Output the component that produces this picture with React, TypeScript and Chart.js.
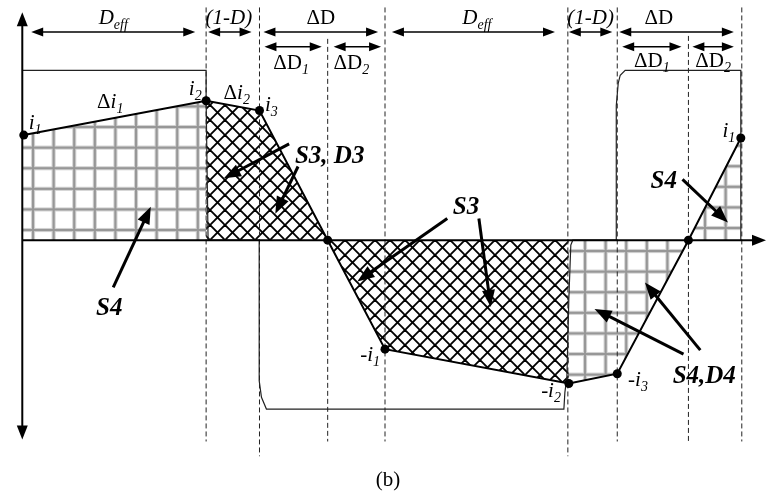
import React, { useEffect, useRef } from "react";
import { Chart, registerables } from "chart.js";

Chart.register(...registerables);

// ---------- data (time and current in arbitrary units) ----------
const eventTimes = [0.15, 18.6, 24.0, 30.9, 36.7, 55.3, 60.2, 67.4, 72.7];
const currentValues = [10.7, 14.2, 13.2, 0, -11.1, -14.6, -13.6, 0, 10.4];

// hatched areas between the current and zero: index ranges into eventTimes
const regionStart = [0, 1, 3, 5, 7];
const regionEnd = [1, 3, 5, 7, 8];
const regionHatch = ["grid", "cross", "cross", "grid", "grid"];

// voltage waveform
const voltageTimes = [0, 18.6, 18.6, 18.8, 23.97, 23.97, 24.2, 24.7, 54.8, 54.9, 55.1, 55.3, 55.5, 55.7, 60.1, 60.1, 60.3, 60.5, 61.0, 72.7, 72.7];
const voltageValues = [17.3, 17.3, 14.2, 0, 0, -14.3, -16.0, -17.2, -17.2, -15.5, -14.0, -6.0, -0.5, 0, 0, 13.7, 16.0, 16.8, 17.3, 17.3, 0];

// vertical dashed markers
const dashTimes = [18.6, 24.0, 30.9, 36.7, 55.2, 60.2, 67.4, 72.8];
const dashTops = [23.7, 23.7, 20.5, 23.7, 23.7, 23.7, 20.8, 23.7];
const dashBottoms = [-20.5, -22.0, -20.5, -20.5, -22.0, -20.5, -20.5, -20.5];

// double-headed interval arrows
const spanStarts = [0.9, 18.8, 24.4, 24.5, 31.5, 37.4, 55.3, 60.4, 60.7, 67.8];
const spanEnds = [17.5, 23.2, 36.0, 30.3, 36.3, 53.9, 59.7, 72.0, 66.7, 72.0];
const spanLevels = [21.2, 21.2, 21.2, 19.7, 19.7, 21.2, 21.2, 21.2, 19.7, 19.7];

// pointer arrows (tail -> head)
const pointerTailT = [9.2, 27.0, 27.9, 43.0, 46.2, 66.9, 68.6, 66.8];
const pointerTailV = [-4.8, 9.8, 7.5, 2.2, 2.2, -11.6, -11.2, 6.2];
const pointerHeadT = [13.0, 20.4, 25.6, 33.9, 47.4, 57.9, 63.0, 71.4];
const pointerHeadV = [3.4, 6.3, 2.7, -4.2, -6.8, -7.0, -4.3, 1.8];

// text labels
const labelTexts = ["D", "(1-D)", "ΔD", "ΔD", "ΔD", "D", "(1-D)", "ΔD", "ΔD", "ΔD",
  "i", "Δi", "i", "Δi", "i", "S3, D3", "S4", "S3", "-i", "-i", "-i", "S4,D4", "i", "S4", "(b)"];
const labelSubs = ["eff", "", "", "1", "2", "eff", "", "", "1", "2",
  "1", "1", "2", "2", "3", "", "", "", "1", "2", "3", "", "1", "", ""];
const labelTimes = [9.2, 20.9, 30.2, 27.2, 33.3, 46.0, 57.5, 64.4, 63.7, 69.9,
  1.3, 8.9, 17.5, 21.7, 25.2, 31.1, 8.8, 44.9, 35.2, 53.5, 62.3, 69.0, 71.5, 64.9, 37.0];
const labelLevels = [22.05, 22.05, 22.05, 17.4, 17.4, 22.05, 22.05, 22.05, 17.6, 17.6,
  11.3, 13.5, 14.8, 14.4, 13.2, 7.9, -7.6, 2.7, -12.3, -16.0, -14.8, -14.5, 10.5, 5.3, -25.0];
const labelKinds = ["it", "it", "up", "up", "up", "it", "it", "up", "up", "up",
  "it", "dit", "it", "dit", "it", "bi", "bi", "bi", "dit", "dit", "dit", "bi", "it", "bi", "up"];

const axisTimeEnd = 75.25;
const axisTop = 23.2;
const axisBottom = -20.3;

const FAMILY = '"Liberation Serif", "Times New Roman", serif';

function makeGrid(ctx: CanvasRenderingContext2D, ox: number, oy: number): CanvasPattern {
  const s = 20;
  const c = document.createElement("canvas");
  c.width = s;
  c.height = s;
  const g = c.getContext("2d")!;
  g.fillStyle = "#d2d2d2";
  g.fillRect(s / 2 - 2, 0, 4, s);
  g.fillRect(0, s / 2 - 2, s, 4);
  g.fillStyle = "#979797";
  g.fillRect(s / 2 - 1, 0, 2, s);
  g.fillRect(0, s / 2 - 1, s, 2);
  const p = ctx.createPattern(c, "repeat")!;
  const k = 1.03;
  p.setTransform(new DOMMatrix().translate(ox - (s / 2) * k, oy - (s / 2) * k).scale(k));
  return p;
}

function makeCross(ctx: CanvasRenderingContext2D): CanvasPattern {
  const s = 15;
  const c = document.createElement("canvas");
  c.width = s;
  c.height = s;
  const g = c.getContext("2d")!;
  g.strokeStyle = "#000";
  g.lineWidth = 1.9;
  for (const o of [-s, 0, s]) {
    g.beginPath();
    g.moveTo(o - 2, -2);
    g.lineTo(o + s + 2, s + 2);
    g.stroke();
    g.beginPath();
    g.moveTo(o + s + 2, -2);
    g.lineTo(o - 2, s + 2);
    g.stroke();
  }
  return ctx.createPattern(c, "repeat")!;
}

function head(ctx: CanvasRenderingContext2D, tx: number, ty: number, dx: number, dy: number, len: number, w: number) {
  const n = Math.hypot(dx, dy) || 1;
  const ux = dx / n, uy = dy / n;
  const bx = tx - ux * len, by = ty - uy * len;
  ctx.beginPath();
  ctx.moveTo(tx, ty);
  ctx.lineTo(bx - uy * w / 2, by + ux * w / 2);
  ctx.lineTo(bx + uy * w / 2, by - ux * w / 2);
  ctx.closePath();
  ctx.fill();
}

function drawLabel(ctx: CanvasRenderingContext2D, x: number, y: number, text: string, sub: string, kind: string) {
  const base = kind === "bi" ? 25 : 21;
  const parts: { s: string; f: string; dy: number }[] = [];
  if (kind === "dit") {
    parts.push({ s: text[0], f: `${base}px ${FAMILY}`, dy: 0 });
    parts.push({ s: text.slice(1), f: `italic ${base}px ${FAMILY}`, dy: 0 });
  } else if (kind === "it") {
    parts.push({ s: text, f: `italic ${base}px ${FAMILY}`, dy: 0 });
  } else if (kind === "bi") {
    parts.push({ s: text, f: `italic bold ${base}px ${FAMILY}`, dy: 0 });
  } else {
    parts.push({ s: text, f: `${base}px ${FAMILY}`, dy: 0 });
  }
  if (sub) parts.push({ s: sub, f: `italic ${Math.round(base * 0.66)}px ${FAMILY}`, dy: base * 0.24 });
  let w = 0;
  const ws: number[] = [];
  for (const p of parts) {
    ctx.font = p.f;
    const m = ctx.measureText(p.s).width;
    ws.push(m);
    w += m;
  }
  let cx = x - w / 2;
  ctx.textBaseline = "alphabetic";
  ctx.textAlign = "left";
  parts.forEach((p, i) => {
    ctx.font = p.f;
    ctx.fillText(p.s, cx, y + p.dy);
    cx += ws[i];
  });
}

const overlay = {
  id: "overlay",
  afterDatasetsDraw(chart: any) {
    const { ctx } = chart;
    const xs = chart.scales.x, ys = chart.scales.y;
    const X = (t: number) => xs.getPixelForValue(t);
    const Y = (v: number) => ys.getPixelForValue(v);
    ctx.save();
    ctx.fillStyle = "#000";
    ctx.strokeStyle = "#000";
    // axis arrowheads
    head(ctx, X(0), Y(axisTop), 0, -1, 14, 11);
    head(ctx, X(0), Y(axisBottom), 0, 1, 14, 11);
    head(ctx, X(axisTimeEnd), Y(0), 1, 0, 14, 11);
    // interval arrows
    ctx.lineWidth = 1.5;
    for (let i = 0; i < spanStarts.length; i++) {
      const x1 = X(spanStarts[i]), x2 = X(spanEnds[i]), y = Y(spanLevels[i]);
      ctx.beginPath();
      ctx.moveTo(x1 + 6, y);
      ctx.lineTo(x2 - 6, y);
      ctx.stroke();
      head(ctx, x1, y, -1, 0, 12, 9);
      head(ctx, x2, y, 1, 0, 12, 9);
    }
    // pointer arrows
    ctx.lineWidth = 3;
    for (let i = 0; i < pointerTailT.length; i++) {
      const x1 = X(pointerTailT[i]), y1 = Y(pointerTailV[i]);
      const x2 = X(pointerHeadT[i]), y2 = Y(pointerHeadV[i]);
      const n = Math.hypot(x2 - x1, y2 - y1);
      const ux = (x2 - x1) / n, uy = (y2 - y1) / n;
      ctx.beginPath();
      ctx.moveTo(x1, y1);
      ctx.lineTo(x2 - ux * 12, y2 - uy * 12);
      ctx.stroke();
      head(ctx, x2, y2, ux, uy, 17, 13);
    }
    // labels
    for (let i = 0; i < labelTexts.length; i++) {
      drawLabel(ctx, X(labelTimes[i]), Y(labelLevels[i]), labelTexts[i], labelSubs[i], labelKinds[i]);
    }
    ctx.restore();
  },
};

export default function App() {
  const ref = useRef<HTMLCanvasElement | null>(null);
  useEffect(() => {
    document.body.style.margin = "0";
    const canvas = ref.current!;
    const ctx = canvas.getContext("2d")!;
    const gridOffsets: Record<number, [number, number]> = { 0: [12.4, 3.4], 3: [8.2, 3.8], 4: [4.6, 1.4] };
    const cross = makeCross(ctx);

    const currentPts = eventTimes.map((t, i) => ({ x: t, y: currentValues[i] }));
    const datasets: any[] = [];
    datasets.push({
      data: currentPts,
      borderColor: "#000",
      borderWidth: 2,
      pointRadius: 4.5,
      pointBackgroundColor: "#000",
      pointBorderWidth: 0,
      fill: false,
      tension: 0,
    });
    // axes
    datasets.push({
      data: [{ x: 0, y: 0 }, { x: axisTimeEnd - 1, y: 0 }],
      borderColor: "#000", borderWidth: 2, pointRadius: 0, fill: false,
    });
    datasets.push({
      data: [{ x: 0, y: axisBottom + 1 }, { x: 0, y: axisTop - 1 }],
      borderColor: "#000", borderWidth: 2, pointRadius: 0, fill: false,
    });
    // voltage
    datasets.push({
      data: voltageTimes.map((t, i) => ({ x: t, y: voltageValues[i] })),
      borderColor: "#222", borderWidth: 1.2, pointRadius: 0, fill: false, tension: 0,
    });
    // dashed markers
    dashTimes.forEach((t, i) => {
      datasets.push({
        data: [{ x: t, y: dashTops[i] }, { x: t, y: dashBottoms[i] }],
        borderColor: "#222", borderWidth: 1, borderDash: [5, 3], pointRadius: 0, fill: false,
      });
    });
    // hatched regions
    regionStart.forEach((s, r) => {
      const pts = currentPts.slice(s, regionEnd[r] + 1);
      if (r === 0) pts[0] = { x: 0, y: pts[0].y };
      const off = gridOffsets[r];
      datasets.push({
        data: pts,
        borderWidth: 0,
        borderColor: "rgba(0,0,0,0)",
        pointRadius: 0,
        fill: "origin",
        backgroundColor: regionHatch[r] === "grid" && off ? makeGrid(ctx, off[0], off[1]) : cross,
        tension: 0,
      });
    });

    const chart = new Chart(canvas, {
      type: "line",
      data: { datasets },
      options: {
        animation: false,
        responsive: false,
        maintainAspectRatio: false,
        devicePixelRatio: 1,
        events: [],
        layout: { padding: 0 },
        scales: {
          x: { type: "linear", min: -1.8, max: 75.3, display: false },
          y: { type: "linear", min: -25.9, max: 24.0, display: false },
        },
        plugins: {
          legend: { display: false },
          tooltip: { enabled: false },
        },
      } as any,
      plugins: [overlay as any],
    });
    return () => chart.destroy();
  }, []);
  return (
    <div style={{ width: 771, height: 499, background: "#fff" }}>
      <canvas ref={ref} width={771} height={499} style={{ display: "block" }} />
    </div>
  );
}
